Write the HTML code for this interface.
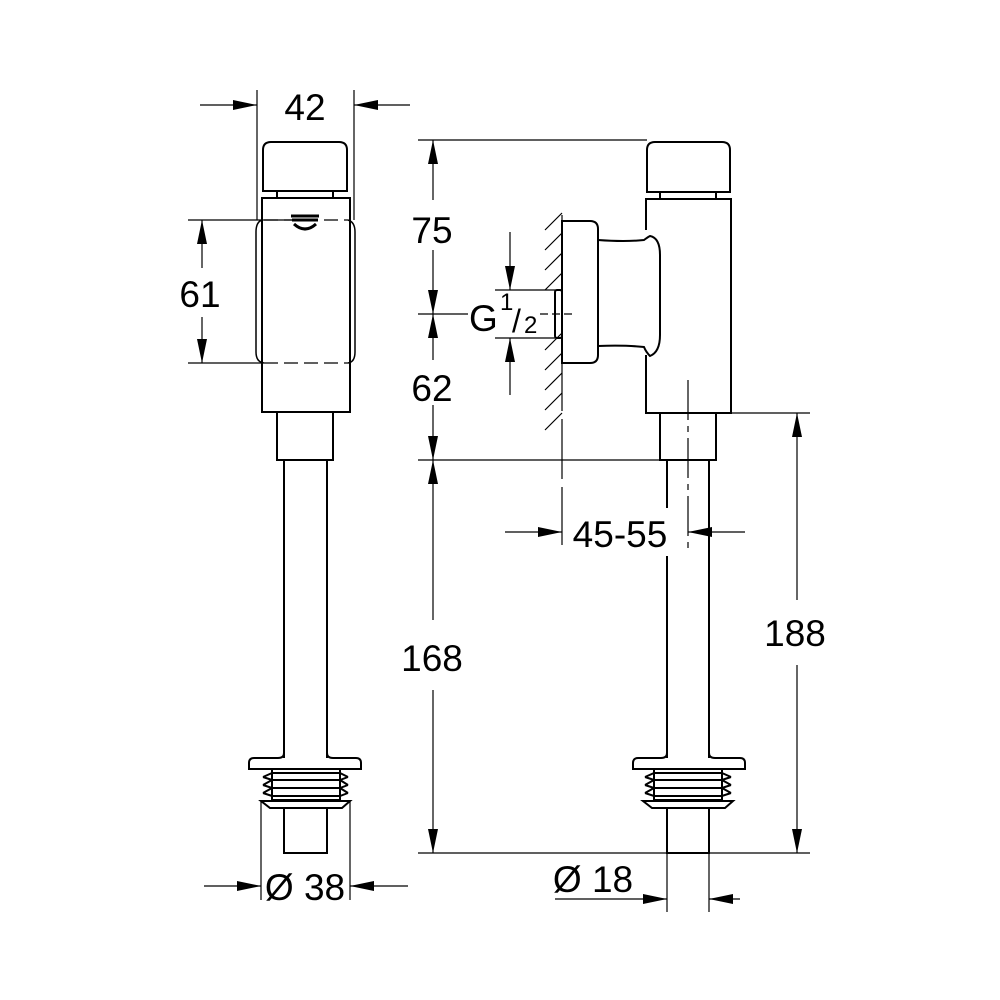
<!DOCTYPE html>
<html><head><style>html,body{margin:0;padding:0;background:#fff}svg{display:block}
text{font-family:"Liberation Sans",Arial,sans-serif;fill:#000}</style></head><body>
<svg width="1000" height="1000" viewBox="0 0 1000 1000" xmlns="http://www.w3.org/2000/svg">
<defs>
<marker id="a" viewBox="0 0 24 10" refX="24" refY="5" markerWidth="24" markerHeight="10" markerUnits="userSpaceOnUse" orient="auto"><path d="M0,0L24,5L0,10z" fill="#000"/></marker>
</defs>
<g fill="none" stroke="#000" stroke-width="1.2">
<line x1="257" y1="90" x2="257" y2="220"/><line x1="354" y1="90" x2="354" y2="220"/>
<line x1="200" y1="105" x2="257" y2="105" marker-end="url(#a)"/>
<line x1="410" y1="105" x2="354" y2="105" marker-end="url(#a)"/>
<line x1="188" y1="220" x2="300" y2="220"/><line x1="188" y1="363" x2="262" y2="363"/>
<line x1="202" y1="268" x2="202" y2="220" marker-end="url(#a)"/>
<line x1="202" y1="317" x2="202" y2="363" marker-end="url(#a)"/>
<line x1="261" y1="801" x2="261" y2="900"/><line x1="350" y1="801" x2="350" y2="900"/>
<line x1="204" y1="886" x2="261" y2="886" marker-end="url(#a)"/>
<line x1="408" y1="886" x2="350" y2="886" marker-end="url(#a)"/>
</g>
<g fill="none" stroke="#000" stroke-width="2">
<path d="M263,191 V150 Q263,142 271,142 H339 Q347,142 347,150 V191 Z"/>
<line x1="277" y1="191" x2="277" y2="198"/><line x1="333" y1="191" x2="333" y2="198"/>
<rect x="262" y="198" width="88" height="214"/>
<path d="M262,220 Q256,222 256,232 V352 Q256,362 264,363 M348,220 Q355,222 355,232 V352 Q355,362 348,363" stroke-width="1.5"/>
<rect x="277" y="412" width="56" height="48"/>
<line x1="284" y1="460" x2="284" y2="758"/><line x1="327" y1="460" x2="327" y2="758"/>
<path d="M284,753 Q284,758 278,758 H254 Q249,758 249,763 V769 H361 V763 Q361,758 356,758 H333 Q327,758 327,753"/>
<path d="M272,770 V800 M340,770 V800 M272,773 H340 M263,777 L272,773 M348,777 L340,773 M263,777 L272,780 H340 L348,777 M263,785 L272,780 M348,785 L340,780 M263,785 L272,788 H340 L348,785 M263,793 L272,788 M348,793 L340,788 M263,793 L272,796 H340 L348,793 M272,800 H340 M261,801 H350 L342,808 H270 Z"/>
<rect x="284" y="808" width="43" height="45"/>
</g>
<path d="M291,216 h28 M292,220 h26 M294,224 q11,10 22,0" stroke="#000" stroke-width="3" fill="none"/>
<line x1="264" y1="220" x2="348" y2="220" stroke="#000" stroke-width="1.2" stroke-dasharray="14,6"/>
<line x1="264" y1="363" x2="348" y2="363" stroke="#000" stroke-width="1.2" stroke-dasharray="14,6"/>
<text x="305" y="120" font-size="37" text-anchor="middle">42</text>
<text x="200" y="307" font-size="37" text-anchor="middle">61</text>
<text x="305" y="900" font-size="37" text-anchor="middle">Ø 38</text>

<g fill="none" stroke="#000" stroke-width="1.2">
<line x1="418" y1="140" x2="647" y2="140"/>
<line x1="418" y1="314" x2="468" y2="314"/><line x1="540" y1="314" x2="572" y2="314" stroke-dasharray="8,4"/>
<line x1="418" y1="460" x2="665" y2="460"/>
<line x1="418" y1="853" x2="810" y2="853"/>
<line x1="730" y1="413" x2="810" y2="413"/>
<line x1="433" y1="200" x2="433" y2="140" marker-end="url(#a)"/>
<line x1="433" y1="250" x2="433" y2="314" marker-end="url(#a)"/>
<line x1="433" y1="360" x2="433" y2="314" marker-end="url(#a)"/>
<line x1="433" y1="405" x2="433" y2="460" marker-end="url(#a)"/>
<line x1="433" y1="620" x2="433" y2="460" marker-end="url(#a)"/>
<line x1="433" y1="690" x2="433" y2="853" marker-end="url(#a)"/>
<line x1="797" y1="600" x2="797" y2="413" marker-end="url(#a)"/>
<line x1="797" y1="665" x2="797" y2="853" marker-end="url(#a)"/>
<line x1="495" y1="290" x2="562" y2="290"/><line x1="495" y1="338" x2="562" y2="338"/>
<line x1="510" y1="232" x2="510" y2="290" marker-end="url(#a)"/>
<line x1="510" y1="395" x2="510" y2="338" marker-end="url(#a)"/>
<line x1="562" y1="215" x2="562" y2="545" stroke-dasharray="60,8"/>
<line x1="688" y1="380" x2="688" y2="548" stroke-dasharray="40,6,6,6"/>
<line x1="505" y1="532" x2="562" y2="532" marker-end="url(#a)"/>
<line x1="745" y1="532" x2="688" y2="532" marker-end="url(#a)"/>
<line x1="667" y1="853" x2="667" y2="912"/><line x1="709" y1="853" x2="709" y2="912"/>
<line x1="555" y1="899" x2="667" y2="899" marker-end="url(#a)"/>
<line x1="740" y1="899" x2="709" y2="899" marker-end="url(#a)"/>
<path d="M545,230l17,-17M545,250l17,-17M545,270l17,-17M545,290l17,-17M545,350l17,-17M545,370l17,-17M545,390l17,-17M545,410l17,-17M545,430l17,-17"/>
</g>
<g fill="none" stroke="#000" stroke-width="2">
<path d="M647,192 V150 Q647,142 655,142 H722 Q730,142 730,150 V192 Z"/>
<line x1="660" y1="192" x2="660" y2="199"/><line x1="716" y1="192" x2="716" y2="199"/>
<path d="M646,230 V199 H731 V413 H646 V355"/>
<path d="M562,221 H590 Q598,221 598,229 V355 Q598,363 590,363 H562 Z"/>
<path d="M598,240 Q625,242 644,240 Q648,237 650,236 Q660,238 660,255 V335 Q660,352 650,356 Q646,352 644,347 Q625,345 598,346"/>
<rect x="555" y="290" width="7" height="48" rx="2"/>
<rect x="660" y="413" width="56" height="47"/>
<line x1="667" y1="460" x2="667" y2="508"/><line x1="667" y1="556" x2="667" y2="758"/>
<line x1="709" y1="460" x2="709" y2="758"/>
<path d="M667,753 Q667,758 661,758 H638 Q633,758 633,763 V769 H745 V763 Q745,758 740,758 H715 Q709,758 709,753"/>
<path d="M654,770 V800 M722,770 V800 M654,773 H722 M645,777 L654,773 M731,777 L722,773 M645,777 L654,780 H722 L731,777 M645,785 L654,780 M731,785 L722,780 M645,785 L654,788 H722 L731,785 M645,793 L654,788 M731,793 L722,788 M645,793 L654,796 H722 L731,793 M654,800 H722 M643,801 H733 L725,808 H652 Z"/>
<rect x="667" y="808" width="42" height="45"/>
</g>
<text x="432" y="243" font-size="37" text-anchor="middle">75</text>
<text x="432" y="401" font-size="37" text-anchor="middle">62</text>
<text x="432" y="671" font-size="37" text-anchor="middle">168</text>
<text x="795" y="646" font-size="37" text-anchor="middle">188</text>
<text x="620" y="547" font-size="37" text-anchor="middle">45-55</text>
<text x="593" y="892" font-size="37" text-anchor="middle">Ø 18</text>
<text x="469" y="331" font-size="37">G</text>
<text x="500" y="310" font-size="24">1</text>
<text x="512" y="332" font-size="32">/</text>
<text x="524" y="333" font-size="24">2</text>
</svg>
</body></html>
